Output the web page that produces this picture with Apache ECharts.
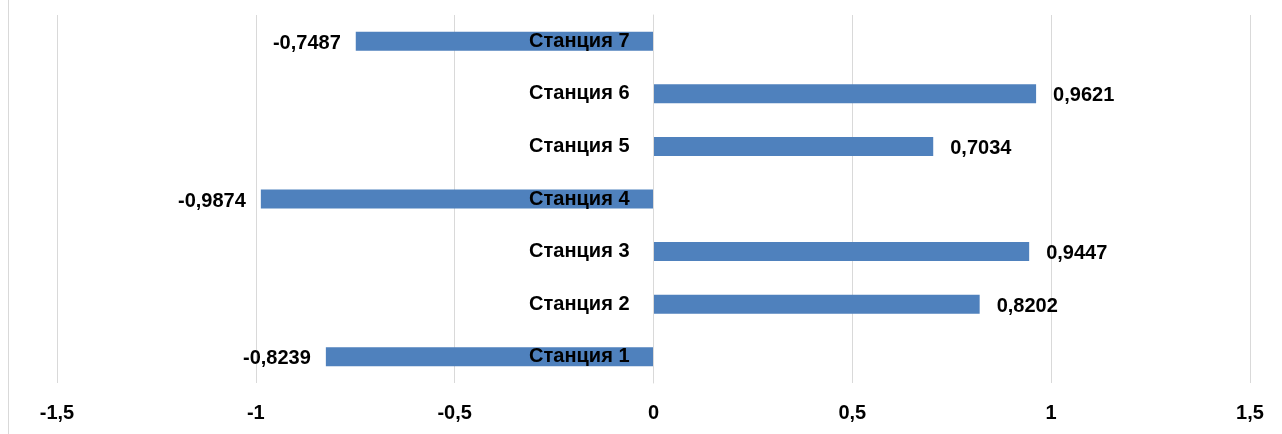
<!DOCTYPE html>
<html>
<head>
<meta charset="utf-8">
<style>
  html, body { margin: 0; padding: 0; background: #ffffff; }
  #chart { width: 1282px; height: 434px; }
</style>
<script src="https://cdn.jsdelivr.net/npm/echarts@6/dist/echarts.min.js"></script>
</head>
<body>
<div id="chart"></div>
<script>
// Stations, bottom to top
const stations = ['Станция 1', 'Станция 2', 'Станция 3', 'Станция 4', 'Станция 5', 'Станция 6', 'Станция 7'];
// Coefficient per station
const coefficients = [-0.8239, 0.8202, 0.9447, -0.9874, 0.7034, 0.9621, -0.7487];
// Value axis range
const axisMin = -1.5;
const axisMax = 1.5;
const axisStep = 0.5;

const FONT = '"Liberation Sans", Arial, sans-serif';
const FONT_SIZE = 20;
const GRID_LEFT = 57;
const fmt = v => String(v).replace('.', ',');

const chart = echarts.init(document.getElementById('chart'));

chart.setOption({
  animation: false,
  grid: { left: GRID_LEFT, right: 32, top: 15, bottom: 51, containLabel: false, outerBoundsMode: 'none' },
  xAxis: {
    type: 'value',
    min: axisMin,
    max: axisMax,
    interval: axisStep,
    axisLine: { show: false },
    axisTick: { show: false },
    splitLine: { show: true, lineStyle: { color: '#d9d9d9', width: 1 } },
    axisLabel: {
      margin: 20,
      color: '#000000',
      fontFamily: FONT,
      fontWeight: 'bold',
      fontSize: FONT_SIZE,
      formatter: v => fmt(v)
    }
  },
  yAxis: {
    type: 'category',
    data: stations,
    axisLine: { show: true, onZero: false, lineStyle: { color: '#d9d9d9', width: 1 } },
    axisTick: { show: false },
    splitLine: { show: false },
    z: 10,
    axisLabel: {
      margin: 24,
      color: '#000000',
      fontFamily: FONT,
      fontWeight: 'bold',
      fontSize: FONT_SIZE
    }
  },
  series: [{
    type: 'bar',
    barWidth: 19,
    itemStyle: { color: '#4f81bd' },
    z: 2,
    data: coefficients.map(v => ({
      value: v,
      label: {
        show: true,
        position: v >= 0 ? 'right' : 'left',
        distance: v >= 0 ? 17 : 15,
        offset: [0, 2],
        color: '#000000',
        fontFamily: FONT,
        fontWeight: 'bold',
        fontSize: FONT_SIZE,
        formatter: p => fmt(p.value)
      }
    }))
  }],
  graphic: [{
    type: 'line',
    shape: { x1: 8.5, y1: 0, x2: 8.5, y2: 434 },
    style: { stroke: '#d9d9d9', lineWidth: 1 },
    silent: true
  }]
});

// Move the category axis onto the zero line of the value axis
const zeroX = chart.convertToPixel({ xAxisIndex: 0 }, 0);
chart.setOption({ yAxis: { offset: GRID_LEFT - zeroX } });
</script>
</body>
</html>
